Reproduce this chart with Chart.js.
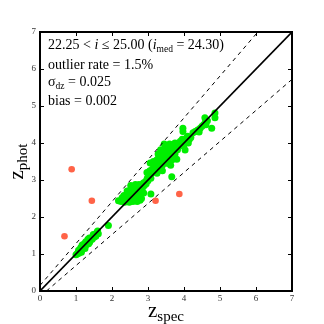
<!DOCTYPE html>
<html>
<head>
<meta charset="utf-8">
<script src="https://cdn.jsdelivr.net/npm/chart.js@4/dist/chart.umd.min.js"></script>
<style>
    html, body { margin: 0; padding: 0; background: #fff; }
    #wrap { width: 324px; height: 324px; }
</style>
</head>
<body>
<div id="wrap"><canvas id="zz_chart" width="324" height="324"></canvas></div>
<script>
// axis ticks
const xTicks = [0, 1, 2, 3, 4, 5, 6, 7];
const yTicks = [0, 1, 2, 3, 4, 5, 6, 7];

// good objects (green)
const zSpecGood = [
    1.00, 1.03, 1.05, 1.08, 1.10, 1.07, 1.12, 1.15, 1.13, 1.18, 1.20, 1.17, 1.22, 1.25, 1.23, 1.28,
    1.30, 1.27, 1.32, 1.35, 1.33, 1.38, 1.40, 1.37, 1.42, 1.45, 1.47, 1.50, 1.52, 1.55, 1.58, 1.60,
    1.55, 1.48, 1.62, 1.90, 1.15, 1.25, 1.35,
    2.18, 2.25, 2.30, 2.28, 2.35, 2.38, 2.33, 2.40, 2.42, 2.45, 2.47, 2.45, 2.50, 2.52, 2.50, 2.55,
    2.57, 2.55, 2.58, 2.60, 2.62, 2.60, 2.65, 2.63, 2.67, 2.68, 2.70, 2.72, 2.73, 2.75, 2.77, 2.80,
    2.82, 2.85, 2.87, 2.90, 2.70, 2.78, 2.52, 2.42, 2.58, 2.48, 2.65, 2.88, 2.93, 2.95, 3.08, 2.98,
    3.00, 3.02, 2.97, 3.05, 3.08, 3.10, 3.12, 3.15, 3.06, 3.18, 3.20, 3.22, 3.25, 3.27, 3.24, 3.30,
    3.32, 3.35, 3.37, 3.40, 3.42, 3.45, 3.47, 3.45, 3.50, 3.52, 3.55, 3.57, 3.60, 3.62, 3.65, 3.67,
    3.66, 3.70, 3.72, 3.75, 3.78, 3.80, 3.82, 3.85, 3.88, 3.90, 3.35, 3.28, 3.15, 3.40, 3.58, 3.63,
    3.25, 3.50, 3.60, 3.75, 3.95, 3.97, 3.97, 4.00, 4.03, 4.05, 4.11, 4.10, 4.12, 4.15, 4.19, 4.25,
    4.31, 4.35, 4.38, 4.42, 4.45, 4.50, 4.55, 4.58, 4.61, 4.60, 4.65, 4.77, 4.86, 4.86
];
const zPhotGood = [
    0.98, 1.00, 1.03, 1.02, 1.06, 1.10, 1.08, 1.12, 1.17, 1.15, 1.20, 1.24, 1.17, 1.22, 1.28, 1.25,
    1.30, 1.33, 1.27, 1.35, 1.40, 1.32, 1.38, 1.43, 1.42, 1.40, 1.47, 1.45, 1.52, 1.55, 1.58, 1.62,
    1.48, 1.53, 1.55, 1.77, 1.05, 1.15, 1.28,
    2.44, 2.42, 2.46, 2.52, 2.40, 2.48, 2.58, 2.55, 2.62, 2.45, 2.52, 2.68, 2.58, 2.48, 2.72, 2.62,
    2.55, 2.78, 2.70, 2.50, 2.64, 2.82, 2.72, 2.58, 2.45, 2.80, 2.66, 2.56, 2.75, 2.88, 2.62, 2.72,
    2.50, 2.80, 2.92, 2.85, 2.42, 2.45, 2.85, 2.70, 2.42, 2.40, 2.88, 2.65, 2.96, 2.90, 2.62, 3.05,
    2.98, 3.12, 3.20, 3.25, 3.05, 3.18, 3.30, 3.22, 3.46, 3.38, 3.28, 3.42, 3.35, 3.52, 3.54, 3.62,
    3.45, 3.30, 3.55, 3.40, 3.65, 3.50, 3.72, 3.97, 3.58, 3.45, 3.68, 3.80, 3.62, 3.90, 3.75, 3.55,
    3.09, 3.85, 3.97, 3.70, 3.88, 3.56, 3.82, 4.00, 3.92, 4.05, 3.82, 3.70, 3.50, 3.25, 3.45, 3.40,
    3.18, 3.88, 3.97, 4.00, 4.10, 4.40, 4.31, 3.95, 3.81, 4.12, 4.17, 4.18, 4.00, 4.10, 4.15, 4.28,
    4.31, 4.31, 4.35, 4.30, 4.40, 4.45, 4.50, 4.68, 4.49, 4.58, 4.60, 4.40, 4.81, 4.68
];

// catastrophic outliers (red)
const zSpecOut = [0.68, 0.88, 1.44, 3.21, 3.87];
const zPhotOut = [1.48, 3.29, 2.44, 2.44, 2.62];

// one-to-one line and outlier limits
const oneToOne = [[0, 0], [7, 7]];
const upperLimit = [[0, 0.15], [6.05, 7]];
const lowerLimit = [[0.18, 0], [7, 5.72]];

const toPoints = (xs, ys) => xs.map((x, i) => ({x: x, y: ys[i]}));
const toPairs = (arr) => arr.map(p => ({x: p[0], y: p[1]}));

const serif = '"Liberation Serif", "DejaVu Serif", serif';

// text with a subscript part
function drawSubText(ctx, parts, x, y) {
    let cx = x;
    parts.forEach(p => {
        ctx.font = (p.italic ? 'italic ' : '') + p.size + 'px ' + serif;
        ctx.fillText(p.t, cx, y + (p.dy || 0));
        cx += ctx.measureText(p.t).width;
    });
    return cx - x;
}

function partsWidth(ctx, parts) {
    let w = 0;
    parts.forEach(p => {
        ctx.font = (p.italic ? 'italic ' : '') + p.size + 'px ' + serif;
        w += ctx.measureText(p.t).width;
    });
    return w;
}

const framePlugin = {
    id: 'frame',
    afterDraw(chart) {
        const ctx = chart.ctx;
        const a = chart.chartArea;
        const xs = chart.scales.x;
        const ys = chart.scales.y;
        ctx.save();
        // inward ticks on all sides
        ctx.strokeStyle = '#000';
        ctx.lineWidth = 1;
        ctx.beginPath();
        xTicks.forEach(v => {
            const px = Math.round(xs.getPixelForValue(v)) + 0.5;
            ctx.moveTo(px, a.bottom); ctx.lineTo(px, a.bottom - 4);
            ctx.moveTo(px, a.top); ctx.lineTo(px, a.top + 4);
        });
        yTicks.forEach(v => {
            const py = Math.round(ys.getPixelForValue(v)) + 0.5;
            ctx.moveTo(a.left, py); ctx.lineTo(a.left + 4, py);
            ctx.moveTo(a.right, py); ctx.lineTo(a.right - 4, py);
        });
        ctx.stroke();
        // box
        ctx.lineWidth = 2;
        ctx.strokeRect(a.left, a.top, a.right - a.left, a.bottom - a.top);

        // annotation
        ctx.fillStyle = '#000';
        ctx.textBaseline = 'alphabetic';
        ctx.textAlign = 'left';
        const tx = a.left + 8;
        drawSubText(ctx, [
            {t: '22.25 < ', size: 14},
            {t: 'i', size: 14, italic: true},
            {t: ' \u2264 25.00 (', size: 14},
            {t: 'i', size: 14, italic: true},
            {t: 'med', size: 9.5, dy: 3},
            {t: ' = 24.30)', size: 14}
        ], tx, 49);
        drawSubText(ctx, [{t: 'outlier rate = 1.5%', size: 14}], tx, 69);
        drawSubText(ctx, [
            {t: '\u03C3', size: 14},
            {t: 'dz', size: 9.5, dy: 3},
            {t: ' = 0.025', size: 14}
        ], tx, 86);
        drawSubText(ctx, [{t: 'bias = 0.002', size: 14}], tx, 105);

        // axis titles
        const xParts = [{t: 'z', size: 21}, {t: 'spec', size: 15, dy: 4}];
        const xw = partsWidth(ctx, xParts);
        drawSubText(ctx, xParts, (a.left + a.right) / 2 - xw / 2, 317);
        const yParts = [{t: 'z', size: 21}, {t: 'phot', size: 15, dy: 4}];
        const yw = partsWidth(ctx, yParts);
        ctx.translate(23, (a.top + a.bottom) / 2);
        ctx.rotate(-Math.PI / 2);
        drawSubText(ctx, yParts, -yw / 2, 0);
        ctx.restore();
    }
};

const ctx = document.getElementById('zz_chart').getContext('2d');
new Chart(ctx, {
    type: 'scatter',
    data: {
        datasets: [
            {
                type: 'line',
                data: toPairs(oneToOne),
                borderColor: '#000',
                borderWidth: 1.6,
                pointRadius: 0,
                fill: false
            },
            {
                type: 'line',
                data: toPairs(upperLimit),
                borderColor: '#000',
                borderWidth: 1,
                borderDash: [4, 4],
                pointRadius: 0,
                fill: false
            },
            {
                type: 'line',
                data: toPairs(lowerLimit),
                borderColor: '#000',
                borderWidth: 1,
                borderDash: [4, 4],
                pointRadius: 0,
                fill: false
            },
            {
                data: toPoints(zSpecOut, zPhotOut),
                backgroundColor: '#ff6347',
                borderWidth: 0,
                pointRadius: 3.3
            },
            {
                data: toPoints(zSpecGood, zPhotGood),
                backgroundColor: '#00ee00',
                borderWidth: 0,
                pointRadius: 3.5
            }
        ]
    },
    options: {
        responsive: false,
        animation: false,
        layout: {padding: {top: 32, right: 32, left: 0, bottom: 0}},
        plugins: {
            legend: {display: false},
            tooltip: {enabled: false}
        },
        scales: {
            x: {
                type: 'linear',
                min: 0,
                max: 7,
                afterFit: (scale) => { scale.height = 33; },
                afterBuildTicks: (scale) => { scale.ticks = xTicks.map(v => ({value: v})); },
                grid: {display: false, drawTicks: false},
                border: {display: false},
                ticks: {
                    padding: 2,
                    color: '#333',
                    font: {family: serif, size: 9},
                    maxRotation: 0
                }
            },
            y: {
                type: 'linear',
                min: 0,
                max: 7,
                afterFit: (scale) => { scale.width = 40; },
                afterBuildTicks: (scale) => { scale.ticks = yTicks.map(v => ({value: v})); },
                grid: {display: false, drawTicks: false},
                border: {display: false},
                ticks: {
                    padding: 4,
                    color: '#333',
                    font: {family: serif, size: 9}
                }
            }
        }
    },
    plugins: [framePlugin]
});
</script>
</body>
</html>
